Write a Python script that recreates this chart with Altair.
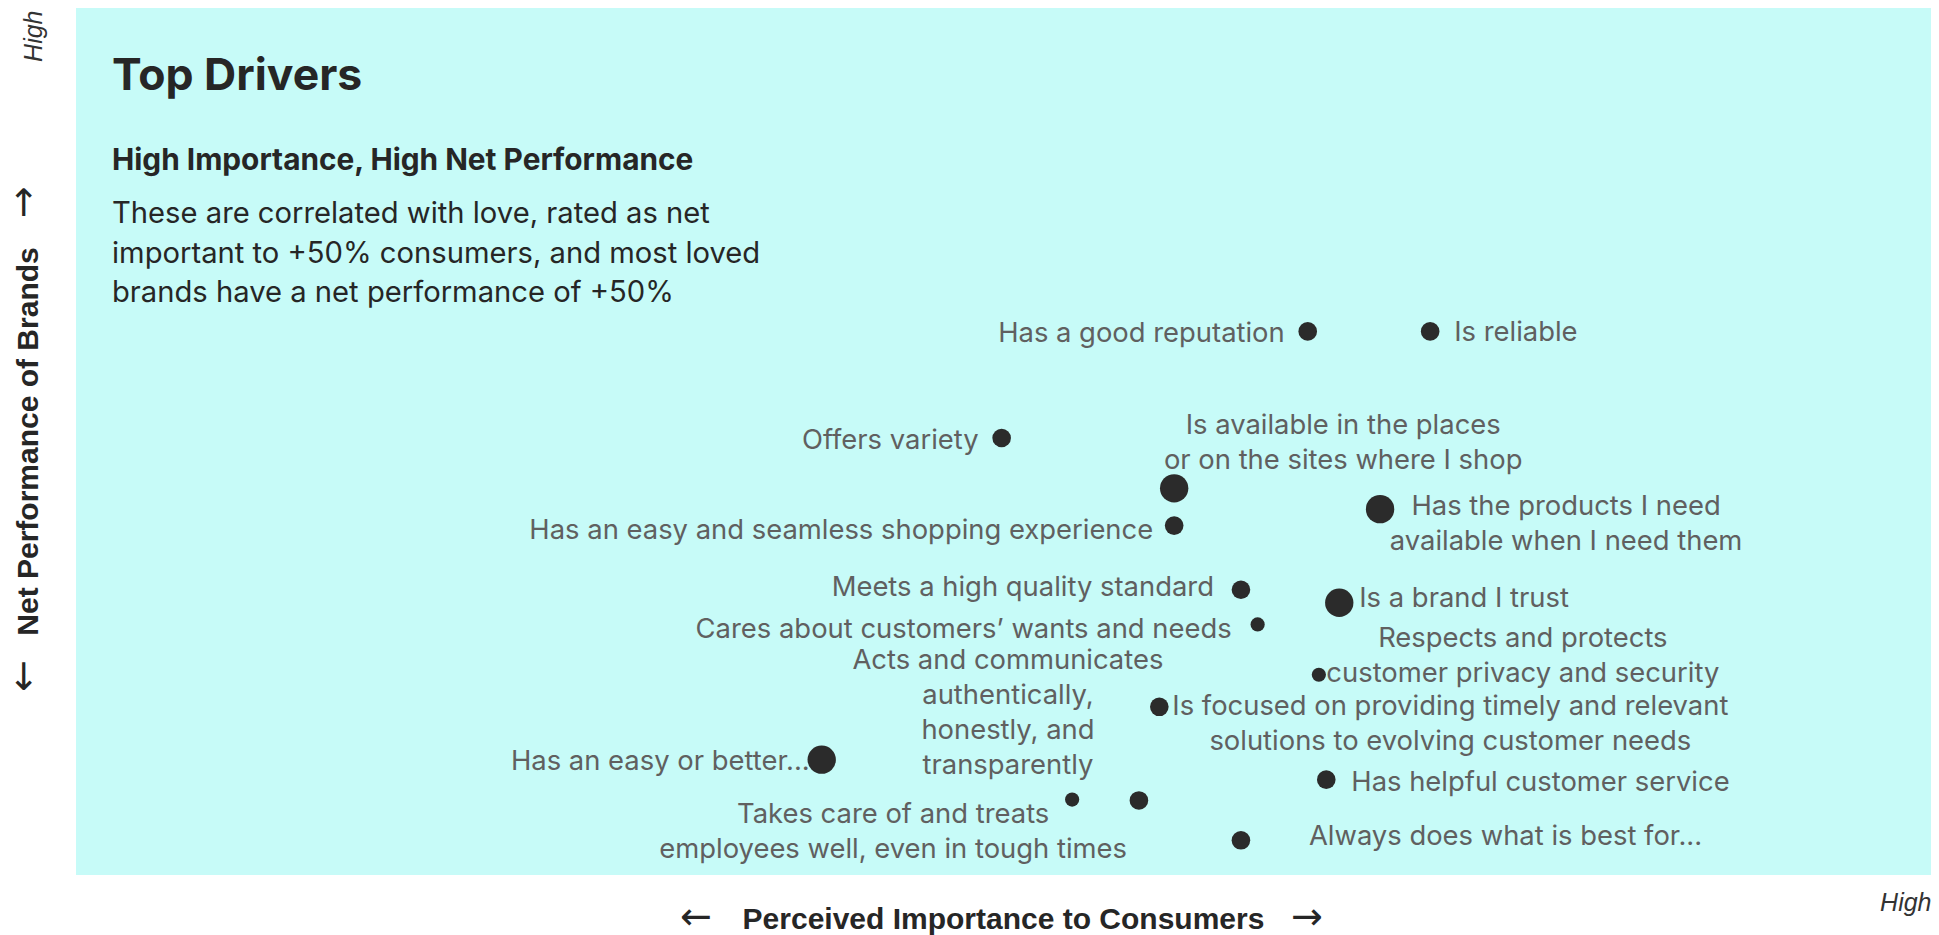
import altair as alt
import pandas as pd

# ---- data ----
labels = [
    "Has a good reputation",
    "Is reliable",
    "Offers variety",
    "Is available in the places\nor on the sites where I shop",
    "Has an easy and seamless shopping experience",
    "Has the products I need\navailable when I need them",
    "Meets a high quality standard",
    "Is a brand I trust",
    "Cares about customers’ wants and needs",
    "Respects and protects\ncustomer privacy and security",
    "Is focused on providing timely and relevant\nsolutions to evolving customer needs",
    "Has an easy or better...",
    "Has helpful customer service",
    "Takes care of and treats\nemployees well, even in tough times",
    "Acts and communicates\nauthentically,\nhonestly, and\ntransparently",
    "Always does what is best for...",
]
importance = [66.4, 73.0, 49.9, 59.2, 59.2, 70.3, 62.8, 68.1, 63.7, 67.0, 58.4, 40.2, 67.4, 53.7, 57.3, 62.8]
performance = [62.7, 62.7, 50.4, 44.6, 40.3, 42.2, 32.9, 31.4, 28.9, 23.1, 19.4, 13.3, 11.0, 8.7, 8.6, 4.0]
weight = [2, 2, 2, 3, 2, 3, 2, 3, 1, 1, 2, 3, 2, 1, 2, 2]

title_text = "Top Drivers"
subtitle_text = "High Importance, High Net Performance"
body_text = ("These are correlated with love, rated as net\n"
             "important to +50% consumers, and most loved\n"
             "brands have a net performance of +50%")
x_title = "Perceived Importance to Consumers"
y_title = "Net Performance of Brands"
axis_end_label = "High"
arrow_glyphs = ["←", "→", "↑", "↓"]

# ---- styles ----
LABEL_FONT = "Inter"
LABEL_SIZE = 27.4
LABEL_COLOR = "#606060"
DARK = "#262626"
DOT = "#2b2b2b"
BG = "#c7fbf8"
AXIS_FONT = "Liberation Sans"
ARROW_FONT = "DejaVu Sans"

# label placement: (align, dx, dy) relative to the dot
placement = {
    0: ("right", -23, 11),
    1: ("left", 24, 10),
    2: ("right", -23, 11),
    3: ("center", 169, -54),
    4: ("right", -21, 13),
    5: ("center", 186, 6),
    6: ("right", -27, 6),
    7: ("left", 20, 4),
    8: ("right", -26, 14),
    9: ("center", 204, -28),
    10: ("center", 291, 8),
    11: ("right", -12, 10),
    12: ("left", 25, 11),
    13: ("center", -179, 23),
    14: ("center", -131, -131),
    15: ("left", 68, 5),
}

df = pd.DataFrame({
    "idx": list(range(len(labels))),
    "label": labels,
    "importance": importance,
    "performance": performance,
    "weight": weight,
})

x_enc = alt.X(
    "importance:Q",
    scale=alt.Scale(domain=[0, 100], nice=False, zero=False),
    axis=alt.Axis(
        values=[100], labelExpr="'" + axis_end_label + "'", domain=False, ticks=False, tickSize=0,
        grid=False, labelFont=AXIS_FONT, labelFontStyle="italic", labelFontSize=25,
        labelColor="#333333", labelPadding=35, labelAlign="right", labelBaseline="alphabetic",
        labelFlush=False,
        title=x_title, titleFont=AXIS_FONT, titleFontWeight="bold", titleFontSize=30,
        titleColor=DARK, titleX=927, titleY=53, titleAlign="center", titleBaseline="alphabetic",
    ),
)
y_enc = alt.Y(
    "performance:Q",
    scale=alt.Scale(domain=[0, 100], nice=False, zero=False),
    axis=alt.Axis(
        values=[100], labelExpr="'" + axis_end_label + "'", domain=False, ticks=False, tickSize=0,
        grid=False, labelFont=AXIS_FONT, labelFontStyle="italic", labelFontSize=25,
        labelColor="#333333", labelPadding=35, labelAngle=270, labelAlign="right",
        labelBaseline="alphabetic", labelOffset=2, labelFlush=False,
        title=y_title, titleFont=AXIS_FONT, titleFontWeight="bold", titleFontSize=30,
        titleColor=DARK, titleAngle=270, titleX=-39, titleY=433, titleAlign="center",
        titleBaseline="alphabetic",
    ),
)

base = alt.Chart(df)

points = base.mark_circle(color=DOT, opacity=1).encode(
    x=x_enc,
    y=y_enc,
    size=alt.Size("weight:Q", scale=alt.Scale(type="threshold", domain=[1.5, 2.5],
                                              range=[201, 346, 804]), legend=None),
)

layers = [points]
for i in range(len(labels)):
    align, dx, dy = placement[i]
    layers.append(
        base.transform_filter(alt.datum.idx == i)
        .mark_text(align=align, baseline="alphabetic", dx=dx, dy=dy, font=LABEL_FONT,
                   fontSize=LABEL_SIZE, color=LABEL_COLOR, lineBreak="\n", lineHeight=35)
        .encode(x=x_enc, y=y_enc, text="label:N")
    )

ann = alt.Chart(pd.DataFrame({"t": [title_text], "s": [subtitle_text], "b": [body_text]}))
layers.append(ann.mark_text(align="left", baseline="alphabetic", font=LABEL_FONT, fontSize=44.5,
                            fontWeight="bold", color=DARK)
              .encode(x=alt.value(36), y=alt.value(82), text="t:N"))
layers.append(ann.mark_text(align="left", baseline="alphabetic", font=LABEL_FONT, fontSize=29.8,
                            fontWeight="bold", color=DARK)
              .encode(x=alt.value(36), y=alt.value(162), text="s:N"))
layers.append(ann.mark_text(align="left", baseline="alphabetic", font=LABEL_FONT, fontSize=29.2,
                            color=DARK, lineBreak="\n", lineHeight=39.5)
              .encode(x=alt.value(36), y=alt.value(215), text="b:N"))

# axis arrows (decorative glyphs beside the axis titles)
arrows = alt.Chart(pd.DataFrame({"a": arrow_glyphs}))
arrow_style = dict(font=ARROW_FONT, fontSize=38, color=DARK, align="center", baseline="middle")
arrow_pos = {"←": (620, 910), "→": (1231, 910), "↑": (-52, 197), "↓": (-52, 671)}
for g in arrow_glyphs:
    ax, ay = arrow_pos[g]
    layers.append(arrows.transform_filter(alt.datum.a == g).mark_text(**arrow_style)
                  .encode(x=alt.value(ax), y=alt.value(ay), text="a:N"))

chart = alt.layer(*layers).properties(
    width=1855,
    height=867,
    padding={"left": 68, "top": 0, "right": 0, "bottom": 72},
    autosize=alt.AutoSizeParams(type="none"),
).configure_view(fill=BG, strokeWidth=0)

chart.save("out.html", embed_options={"renderer": "svg", "actions": False})
